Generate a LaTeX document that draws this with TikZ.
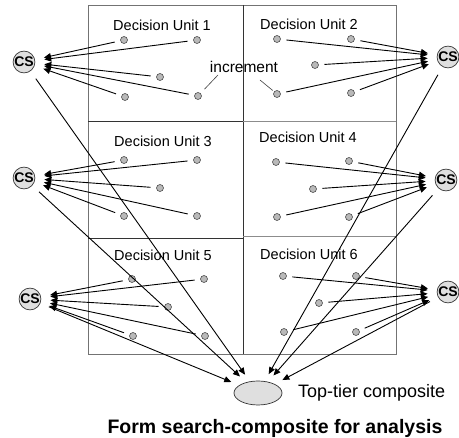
\documentclass[tikz,border=0pt]{standalone}
\usepackage{fontspec}
\setmainfont{Liberation Sans}
\usetikzlibrary{arrows.meta,shapes.geometric}

\begin{document}
\begin{tikzpicture}[x=1pt,y=-1pt,
    unitlabel/.style={inner sep=0pt,font=\fontsize{14.5}{16}\selectfont},
    inc/.style={circle,draw=black!70,fill=gray!55,line width=0.6pt,inner sep=0pt,minimum size=7pt,outer sep=6pt},
    cs/.style={circle,draw=black!80,fill=gray!25,line width=0.7pt,inner sep=0pt,minimum size=21pt,outer sep=9.5pt,font=\fontsize{14}{14}\selectfont\bfseries},
    feed/.style={-{Triangle[length=7pt,width=6pt]},line width=0.9pt},
    pointer/.style={line width=0.6pt,draw=black!75}
  ]
    \useasboundingbox (0,0) rectangle (459,438);

    % grid of decision units
    \draw[black!55,line width=0.8pt] (88,5) rectangle (396,354);
    \draw[black!80,line width=0.9pt] (243,5) -- (243,354);
    \draw[black!80,line width=0.9pt] (88,121) -- (243,121);
    \draw[black!80,line width=0.9pt] (88,238) -- (243,238);
    \draw[black!45,line width=0.8pt] (243,121) -- (396,121);
    \draw[black!45,line width=0.8pt] (243,236) -- (396,236);

    \node[unitlabel] (u1) at (162,25) {Decision Unit 1};
    \node[unitlabel] (u2) at (309,24) {Decision Unit 2};
    \node[unitlabel] (u3) at (163,141) {Decision Unit 3};
    \node[unitlabel] (u4) at (308,137) {Decision Unit 4};
    \node[unitlabel] (u5) at (163,255) {Decision Unit 5};
    \node[unitlabel] (u6) at (309,254) {Decision Unit 6};

    % increments
    \node[inc] (d11) at (124,40) {};
    \node[inc] (d12) at (197,40) {};
    \node[inc] (d13) at (160,77) {};
    \node[inc] (d14) at (125,97) {};
    \node[inc] (d15) at (198,96) {};

    \node[inc] (d21) at (277,39) {};
    \node[inc] (d22) at (351,39) {};
    \node[inc] (d23) at (315,65) {};
    \node[inc] (d24) at (277,94) {};
    \node[inc] (d25) at (351,93) {};

    \node[inc] (d31) at (124,160) {};
    \node[inc] (d32) at (197,160) {};
    \node[inc] (d33) at (160,188) {};
    \node[inc] (d34) at (124,216) {};
    \node[inc] (d35) at (197,216) {};

    \node[inc] (d41) at (276,162) {};
    \node[inc] (d42) at (349,161) {};
    \node[inc] (d43) at (313,189) {};
    \node[inc] (d44) at (277,217) {};
    \node[inc] (d45) at (349,217) {};

    \node[inc] (d51) at (132,279) {};
    \node[inc] (d52) at (204,279) {};
    \node[inc] (d53) at (168,307) {};
    \node[inc] (d54) at (133,336) {};
    \node[inc] (d55) at (205,336) {};

    \node[inc] (d61) at (283,276) {};
    \node[inc] (d62) at (356,276) {};
    \node[inc] (d63) at (319,303) {};
    \node[inc] (d64) at (284,332) {};
    \node[inc] (d65) at (356,332) {};

    \node[inner sep=0pt,font=\fontsize{15.5}{17}\selectfont] (inctext) at (244,67) {increment};
    \coordinate (incl) at (218,75);
    \coordinate (incr) at (260,80);
    \draw[pointer] (incl) -- (d15);
    \draw[pointer,shorten >=-4pt] (incr) -- (d24);

    % search composites
    \node[cs] (csl1) at (24,62) {CS};
    \node[cs] (csl2) at (24,178) {CS};
    \node[cs] (csl3) at (30,299) {CS};
    \node[cs] (csr1) at (448,57) {CS};
    \node[cs] (csr2) at (446,180) {CS};
    \node[cs] (csr3) at (448,292) {CS};

    \draw[feed] (d11) -- (csl1);
    \draw[feed] (d12) -- (csl1);
    \draw[feed] (d13) -- (csl1);
    \draw[feed] (d14) -- (csl1);
    \draw[feed] (d15) -- (csl1);

    \draw[feed] (d21) -- (csr1);
    \draw[feed] (d22) -- (csr1);
    \draw[feed] (d23) -- (csr1);
    \draw[feed] (d24) -- (csr1);
    \draw[feed] (d25) -- (csr1);

    \draw[feed] (d31) -- (csl2);
    \draw[feed] (d32) -- (csl2);
    \draw[feed] (d33) -- (csl2);
    \draw[feed] (d34) -- (csl2);
    \draw[feed] (d35) -- (csl2);

    \draw[feed] (d41) -- (csr2);
    \draw[feed] (d42) -- (csr2);
    \draw[feed] (d43) -- (csr2);
    \draw[feed] (d44) -- (csr2);
    \draw[feed] (d45) -- (csr2);

    \draw[feed] (d51) -- (csl3);
    \draw[feed] (d52) -- (csl3);
    \draw[feed] (d53) -- (csl3);
    \draw[feed] (d54) -- (csl3);
    \draw[feed] (d55) -- (csl3);

    \draw[feed] (d61) -- (csr3);
    \draw[feed] (d62) -- (csr3);
    \draw[feed] (d63) -- (csr3);
    \draw[feed] (d64) -- (csr3);
    \draw[feed] (d65) -- (csr3);

    % top-tier composite
    \node[ellipse,draw=black!80,fill=gray!25,line width=0.7pt,minimum width=48pt,minimum height=24pt,outer sep=8pt] (top) at (258,393) {};
    \node[anchor=west,inner sep=0pt,font=\fontsize{18}{20}\selectfont] (toplabel) at (298,393) {Top-tier composite};

    \draw[feed] (csl1) -- (top);
    \draw[feed] (csl2) -- (top);
    \draw[feed] (csl3) -- (top);
    \draw[feed] (csr1) -- (top);
    \draw[feed] (csr2) -- (top);
    \draw[feed] (csr3) -- (top);

    \node[font=\fontsize{19.5}{21}\selectfont\bfseries] (caption) at (275,428) {Form search-composite for analysis};
\end{tikzpicture}
\end{document}
